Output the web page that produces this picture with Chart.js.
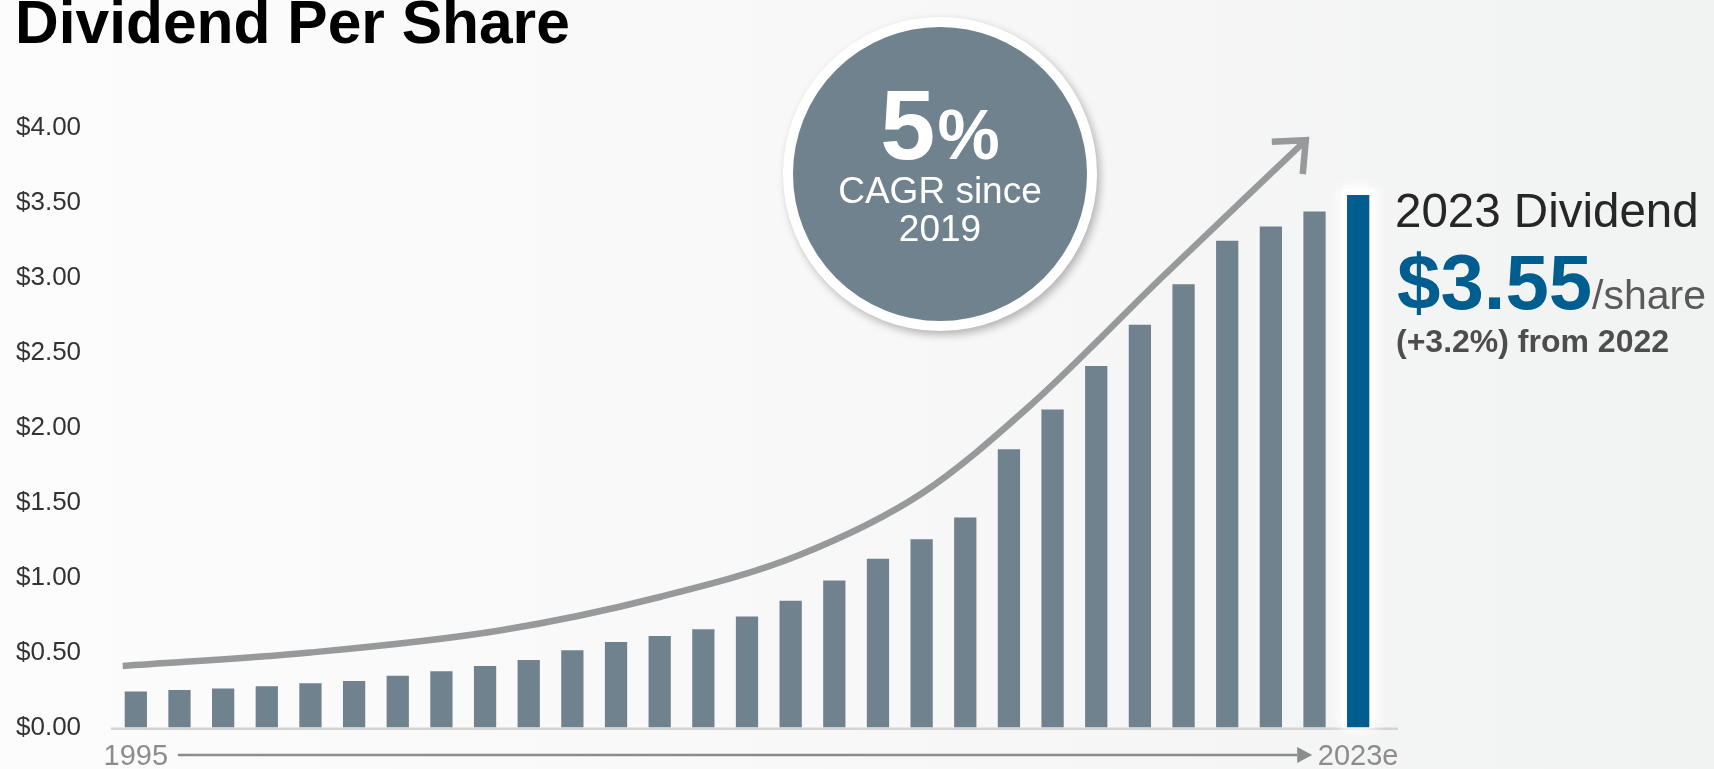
<!DOCTYPE html>
<html>
<head>
<meta charset="utf-8">
<title>Dividend Per Share</title>
<script src="https://cdn.jsdelivr.net/npm/chart.js@4.4.0/dist/chart.umd.min.js"></script>
<style>
  html, body { margin: 0; padding: 0; }
  body {
    width: 1714px; height: 769px; overflow: hidden; position: relative;
    background: linear-gradient(to right, #fcfcfc 0%, #f8f8f8 50%, #f1f2f2 100%);
    font-family: 'Liberation Sans', Arial, sans-serif;
  }
  #chart { position: absolute; left: 0; top: 0; }
  .txt { position: absolute; line-height: 1; white-space: nowrap; }
  .title { left: 15px; top: -8px; font-size: 60.5px; font-weight: bold; color: #000; }
  .badge {
    position: absolute; left: 783px; top: 17px; width: 314px; height: 314px;
    box-sizing: border-box; border-radius: 50%; background: #6f828d;
    border: 10px solid #fff; box-shadow: 3px 4px 8px rgba(0,0,0,0.28);
  }
  .center { left: 790px; width: 300px; text-align: center; color: #fff; }
  .pct { top: 75px; font-size: 99px; font-weight: bold; letter-spacing: 2px; }
  .pct span { font-size: 70px; letter-spacing: 0; }
  .cagr1 { top: 172px; font-size: 37px; }
  .cagr2 { top: 210px; font-size: 37px; }
  .label2023 { left: 1395px; top: 187px; font-size: 47.5px; color: #262626; }
  .amount { left: 1397px; top: 243px; font-size: 78px; font-weight: bold; color: #005d8f; }
  .share { left: 1592px; top: 275px; font-size: 41px; color: #595959; }
  .change { left: 1396px; top: 325px; font-size: 32px; font-weight: bold; color: #4d4d4d; }
</style>
</head>
<body>
<canvas id="chart" width="1714" height="769"></canvas>
<div class="txt title">Dividend Per Share</div>
<div class="badge"></div>
<div class="txt center pct">5<span>%</span></div>
<div class="txt center cagr1">CAGR since</div>
<div class="txt center cagr2">2019</div>
<div class="txt label2023">2023 Dividend</div>
<div class="txt amount">$3.55</div>
<div class="txt share">/share</div>
<div class="txt change">(+3.2%) from 2022</div>
<script>
const categories = ['1995', '1996', '1997', '1998', '1999', '2000', '2001', '2002', '2003', '2004',
  '2005', '2006', '2007', '2008', '2009', '2010', '2011', '2012', '2013', '2014',
  '2015', '2016', '2017', '2018', '2019', '2020', '2021', '2022', '2023e'];
const dividends = [0.24, 0.25, 0.26, 0.275, 0.295, 0.31, 0.345, 0.375, 0.41, 0.45,
  0.515, 0.57, 0.61, 0.655, 0.74, 0.845, 0.98, 1.125, 1.255, 1.40,
  1.855, 2.12, 2.41, 2.685, 2.955, 3.245, 3.34, 3.44, 3.55];
const yTickLabels = ['$0.00', '$0.50', '$1.00', '$1.50', '$2.00', '$2.50', '$3.00', '$3.50', '$4.00'];

// growth arrow drawn over the bars (x in years, y in dollars)
const trendYears = [1994.7, 1999.0, 2003.3, 2007.0, 2010.2, 2013.0, 2015.5, 2018.5, 2021.8];
const trendValues = [0.41, 0.50, 0.645, 0.87, 1.15, 1.56, 2.15, 3.0, 3.915];

const grey = '#6f828d';
const blue = '#005d8f';
const trendGrey = '#97999b';

const barColors = categories.map((c, i) => i === categories.length - 1 ? blue : grey);

const decorations = {
  id: 'decorations',
  beforeDatasetsDraw(chart) {
    const ctx = chart.ctx;
    const area = chart.chartArea;
    const zero = chart.scales.y.getPixelForValue(0);
    ctx.save();
    // baseline
    ctx.fillStyle = '#d4d4d4';
    ctx.fillRect(area.left - 3, zero, area.right - area.left + 21, 2.5);
    // white glow behind the 2023 bar
    const bar = chart.getDatasetMeta(0).data[dividends.length - 1];
    ctx.shadowColor = '#ffffff';
    ctx.shadowBlur = 14;
    ctx.fillStyle = '#ffffff';
    ctx.fillRect(bar.x - bar.width / 2 - 5, bar.y - 6, bar.width + 10, bar.base - bar.y + 6);
    ctx.fillRect(bar.x - bar.width / 2 - 5, bar.y - 6, bar.width + 10, bar.base - bar.y + 6);
    ctx.restore();
  },
  afterDatasetsDraw(chart) {
    const ctx = chart.ctx;
    // open arrow head at the end of the growth line
    const pts = chart.getDatasetMeta(1).data;
    const tip = pts[pts.length - 1];
    const bx = tip.cp1x !== undefined ? tip.cp1x : pts[pts.length - 2].x;
    const by = tip.cp1y !== undefined ? tip.cp1y : pts[pts.length - 2].y;
    const ang = Math.atan2(tip.y - by, tip.x - bx);
    const len = 34;
    const spread = 0.72;
    ctx.save();
    ctx.strokeStyle = trendGrey;
    ctx.lineWidth = 6.5;
    ctx.lineJoin = 'miter';
    ctx.beginPath();
    ctx.moveTo(tip.x + len * Math.cos(ang + Math.PI - spread), tip.y + len * Math.sin(ang + Math.PI - spread));
    ctx.lineTo(tip.x, tip.y);
    ctx.lineTo(tip.x + len * Math.cos(ang + Math.PI + spread), tip.y + len * Math.sin(ang + Math.PI + spread));
    ctx.stroke();
    ctx.restore();
  },
  afterDraw(chart) {
    const ctx = chart.ctx;
    const x = chart.scales.x;
    const ty = chart.scales.y.getPixelForValue(0) + 27.5;
    const x0 = x.getPixelForTick(0) + 42;
    const x1 = x.getPixelForTick(categories.length - 1) - 46;
    ctx.save();
    ctx.fillStyle = '#8c8c8c';
    ctx.fillRect(x0, ty - 1.25, x1 - 15 - x0, 2.5);
    ctx.beginPath();
    ctx.moveTo(x1 - 15, ty - 8);
    ctx.lineTo(x1, ty);
    ctx.lineTo(x1 - 15, ty + 8);
    ctx.closePath();
    ctx.fill();
    ctx.restore();
  }
};

new Chart(document.getElementById('chart'), {
  type: 'bar',
  data: {
    labels: categories,
    datasets: [{
      data: dividends,
      backgroundColor: barColors,
      borderWidth: 0,
      grouped: false,
      barPercentage: 0.51,
      categoryPercentage: 1
    }, {
      type: 'line',
      xAxisID: 'x2',
      data: trendYears.map((yr, i) => ({ x: yr, y: trendValues[i] })),
      borderColor: trendGrey,
      borderWidth: 6.5,
      borderCapStyle: 'butt',
      pointRadius: 0,
      cubicInterpolationMode: 'monotone',
      fill: false
    }]
  },
  options: {
    responsive: false,
    animation: false,
    layout: { padding: { left: 16, right: 334, top: 127.5, bottom: 0 } },
    plugins: {
      legend: { display: false },
      tooltip: { enabled: false }
    },
    scales: {
      x: {
        grid: { display: false, drawTicks: false },
        border: { display: false },
        ticks: {
          autoSkip: false,
          maxRotation: 0,
          padding: 12,
          color: '#8c8c8c',
          font: { family: "'Liberation Sans', Arial, sans-serif", size: 29 },
          callback: (v, i) => (i === 0 || i === categories.length - 1) ? categories[i] : ''
        },
        afterFit: (s) => { s.height = 41.5; }
      },
      x2: {
        type: 'linear',
        display: false,
        min: 1994.5,
        max: 2023.5,
        offset: false
      },
      y: {
        min: 0,
        max: 4,
        grid: { display: false, drawTicks: false },
        border: { display: false },
        ticks: {
          stepSize: 0.5,
          crossAlign: 'far',
          color: '#333333',
          font: { family: "'Liberation Sans', Arial, sans-serif", size: 26 },
          callback: (v, i) => yTickLabels[i]
        },
        afterFit: (s) => { s.width = 98; }
      }
    }
  },
  plugins: [decorations]
});
</script>
</body>
</html>
